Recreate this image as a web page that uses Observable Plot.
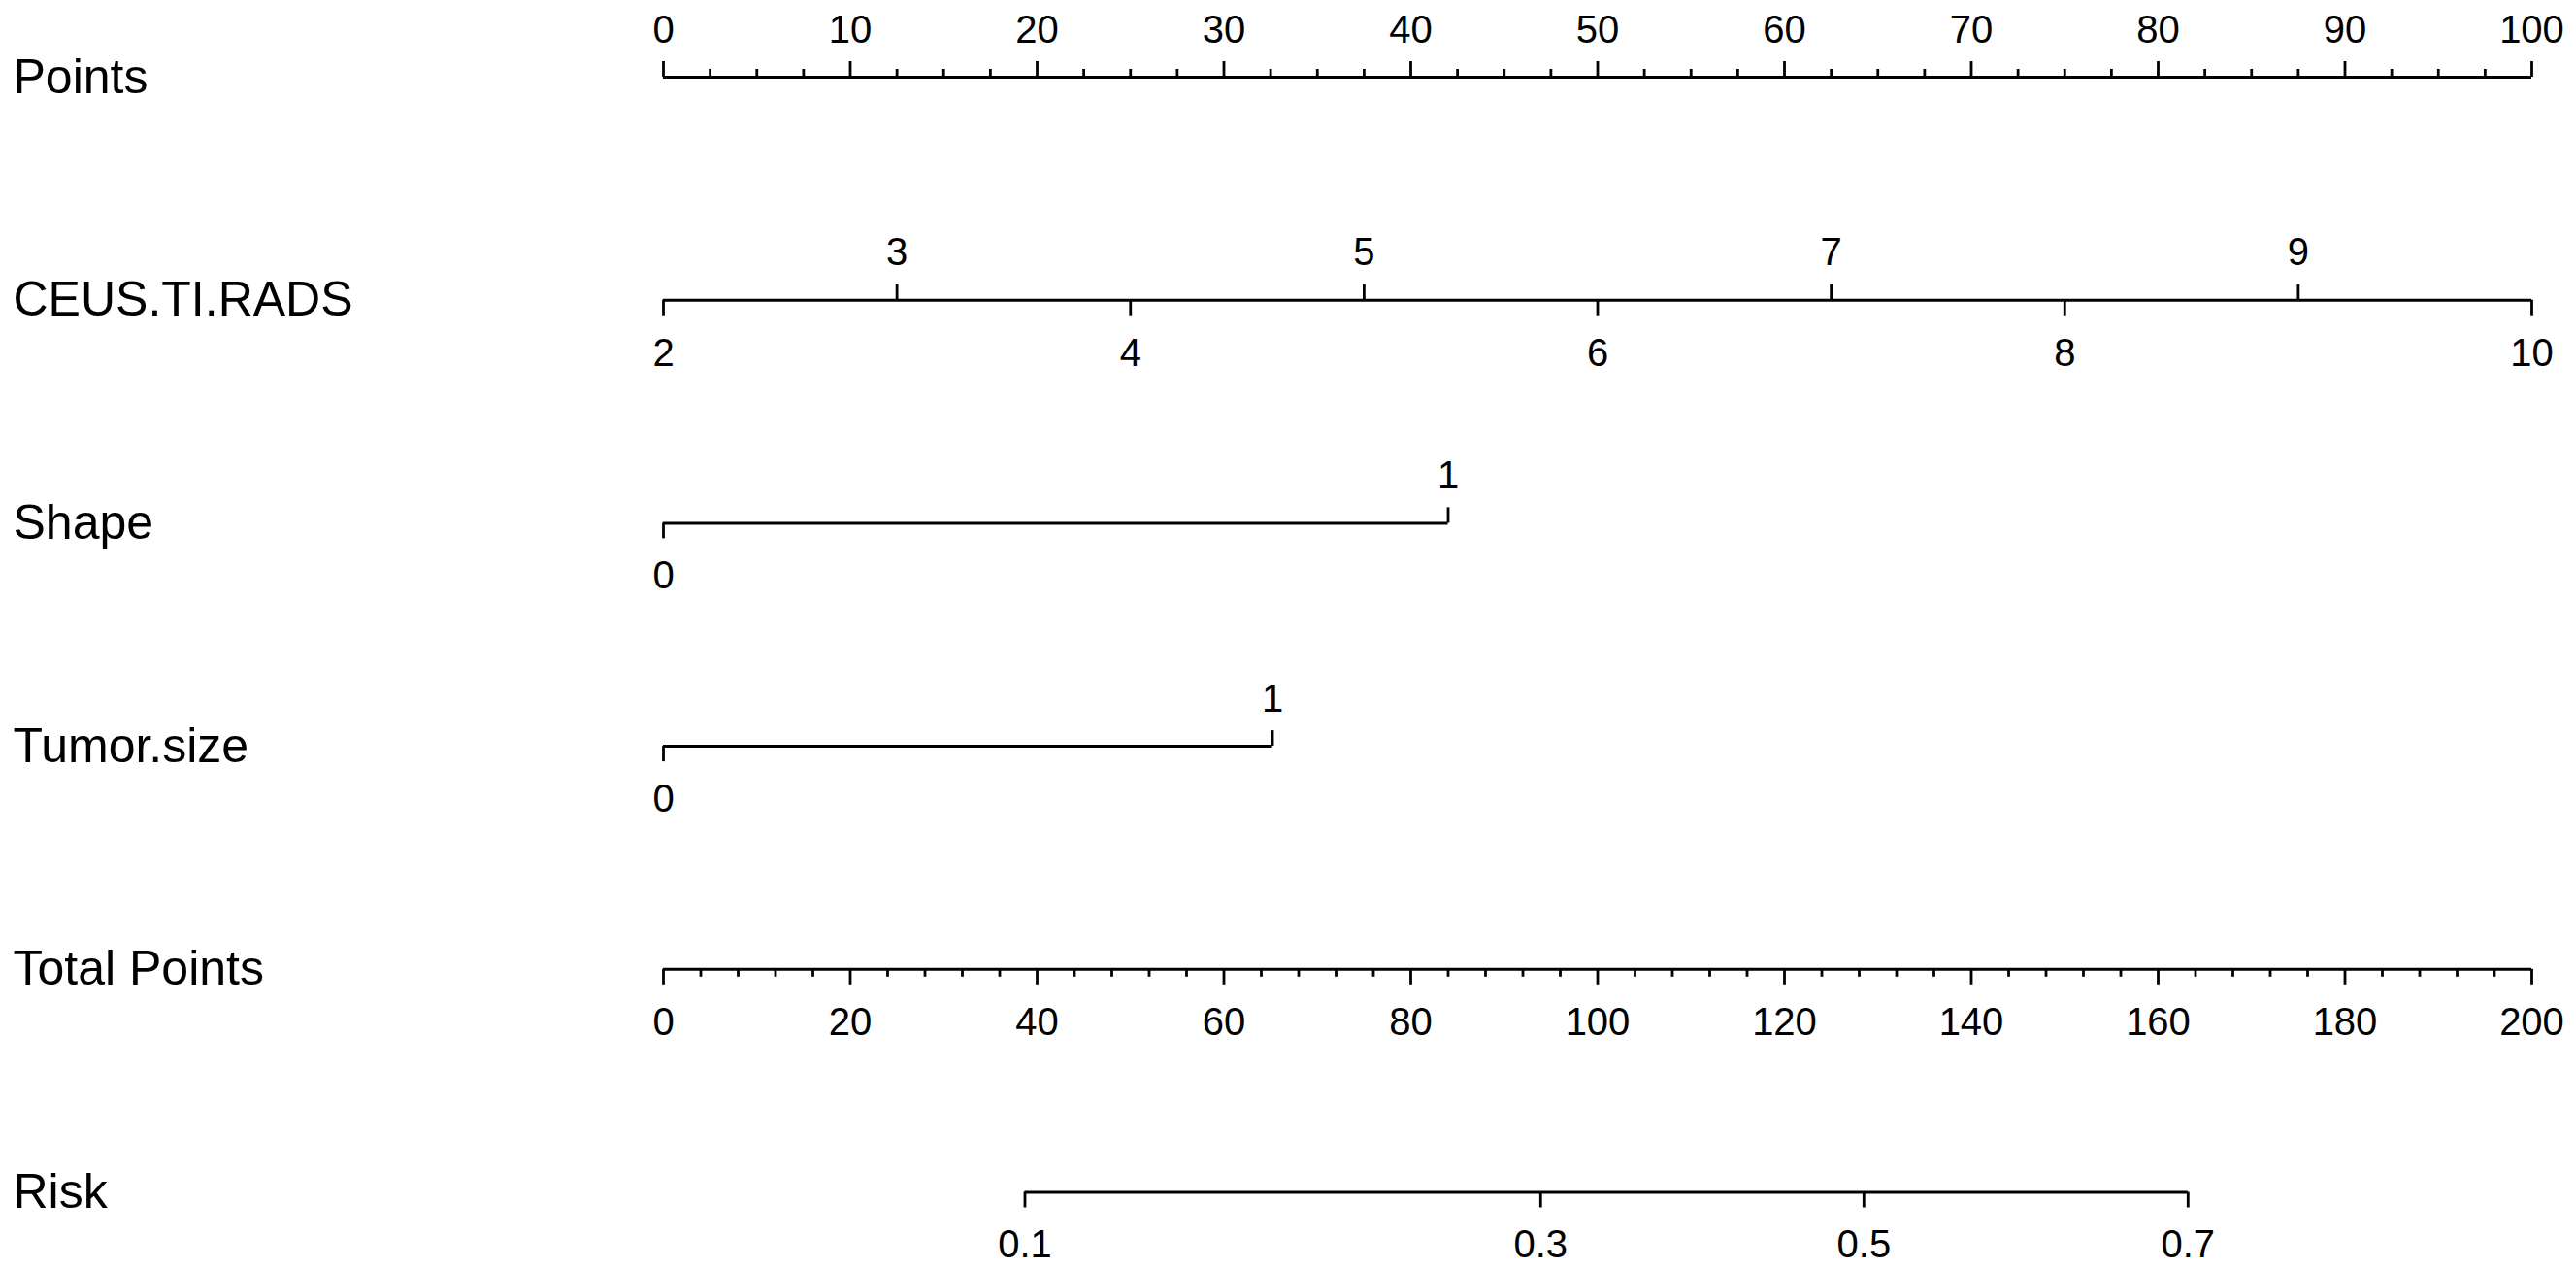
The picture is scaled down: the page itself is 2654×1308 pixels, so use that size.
<!DOCTYPE html>
<html>
<head>
<meta charset="utf-8">
<script src="https://cdn.jsdelivr.net/npm/d3@7"></script>
<script src="https://cdn.jsdelivr.net/npm/@observablehq/plot@0.6"></script>
<style>
html, body { margin: 0; padding: 0; background: #ffffff; }
#chart svg { display: block; }
</style>
</head>
<body>
<div id="chart"></div>
<script>
// ---- data ----
const rows = ["Points", "CEUS.TI.RADS", "Shape", "Tumor.size", "Total Points", "Risk"];

const pointsTicks = [0, 10, 20, 30, 40, 50, 60, 70, 80, 90, 100];
const pointsMinorStep = 2.5;

const ceusLevels = [2, 3, 4, 5, 6, 7, 8, 9, 10];
const ceusPoints = [0, 12.5, 25, 37.5, 50, 62.5, 75, 87.5, 100];

const shapeLevels = [0, 1];
const shapePoints = [0, 42];

const tumorLevels = [0, 1];
const tumorPoints = [0, 32.6];

const totalTicks = [0, 20, 40, 60, 80, 100, 120, 140, 160, 180, 200];
const totalMinorStep = 4;

const riskLevels = [0.1, 0.3, 0.5, 0.7];
const riskTotalPoints = [38.7, 93.9, 128.5, 163.2];

// ---- layout ----
const W = 2654, H = 1308;
const mL = 683, mR = 46, mT = 79, mB = 80.5;
const rowPx = (H - mT - mB) / (rows.length - 1);
const majorLen = 16, minorLen = 8;
const totalToPoints = 100 / 200;   // total-points axis spans the same width as 0-100 points
const font = "'Liberation Sans', Arial, Helvetica, sans-serif";

// ---- build marks data ----
const lines = [];   // {row, x1, x2}
const ticks = [];   // {row, x, dir, len}
const labels = [];  // {row, x, text, dir}

// Points row
lines.push({row: 0, x1: 0, x2: 100});
d3.range(0, 100 + 1e-9, pointsMinorStep).forEach(v => {
  const major = pointsTicks.includes(v);
  ticks.push({row: 0, x: v, dir: 1, len: major ? majorLen : minorLen});
});
pointsTicks.forEach(v => labels.push({row: 0, x: v, text: String(v), dir: 1}));

// CEUS.TI.RADS row (alternating labels: odd above, even below)
lines.push({row: 1, x1: ceusPoints[0], x2: ceusPoints[ceusPoints.length - 1]});
ceusLevels.forEach((lv, i) => {
  const dir = i % 2 === 1 ? 1 : -1;
  ticks.push({row: 1, x: ceusPoints[i], dir, len: majorLen});
  labels.push({row: 1, x: ceusPoints[i], text: String(lv), dir});
});

// Shape row
lines.push({row: 2, x1: shapePoints[0], x2: shapePoints[1]});
shapeLevels.forEach((lv, i) => {
  const dir = i % 2 === 1 ? 1 : -1;
  ticks.push({row: 2, x: shapePoints[i], dir, len: majorLen});
  labels.push({row: 2, x: shapePoints[i], text: String(lv), dir});
});

// Tumor.size row
lines.push({row: 3, x1: tumorPoints[0], x2: tumorPoints[1]});
tumorLevels.forEach((lv, i) => {
  const dir = i % 2 === 1 ? 1 : -1;
  ticks.push({row: 3, x: tumorPoints[i], dir, len: majorLen});
  labels.push({row: 3, x: tumorPoints[i], text: String(lv), dir});
});

// Total Points row
lines.push({row: 4, x1: 0, x2: 200 * totalToPoints});
d3.range(0, 200 + 1e-9, totalMinorStep).forEach(v => {
  const major = totalTicks.includes(v);
  ticks.push({row: 4, x: v * totalToPoints, dir: -1, len: major ? majorLen : minorLen});
});
totalTicks.forEach(v => labels.push({row: 4, x: v * totalToPoints, text: String(v), dir: -1}));

// Risk row
lines.push({row: 5, x1: riskTotalPoints[0] * totalToPoints, x2: riskTotalPoints[riskTotalPoints.length - 1] * totalToPoints});
riskLevels.forEach((lv, i) => {
  ticks.push({row: 5, x: riskTotalPoints[i] * totalToPoints, dir: -1, len: majorLen});
  labels.push({row: 5, x: riskTotalPoints[i] * totalToPoints, text: String(lv), dir: -1});
});

const up = labels.filter(d => d.dir === 1);
const down = labels.filter(d => d.dir === -1);

const chart = Plot.plot({
  width: W,
  height: H,
  marginLeft: mL,
  marginRight: mR,
  marginTop: mT,
  marginBottom: mB,
  x: {domain: [0, 100], axis: null},
  y: {domain: [0, rows.length - 1], reverse: true, axis: null},
  style: {fontFamily: font, background: "#ffffff", color: "#000000"},
  marks: [
    Plot.ruleY(lines, {y: "row", x1: "x1", x2: "x2", stroke: "#000", strokeWidth: 3}),
    Plot.ruleX(ticks, {
      x: "x",
      y1: "row",
      y2: d => d.row - d.dir * d.len / rowPx,
      stroke: "#000",
      strokeWidth: 2.8
    }),
    Plot.text(up, {
      x: "x", y: "row", text: "text",
      lineAnchor: "bottom", dy: -36,
      fontSize: 40, fill: "#000"
    }),
    Plot.text(down, {
      x: "x", y: "row", text: "text",
      lineAnchor: "top", dy: 39,
      fontSize: 40, fill: "#000"
    }),
    Plot.text(rows, {
      y: (d, i) => i,
      text: d => d,
      frameAnchor: "left",
      textAnchor: "start",
      lineAnchor: "middle",
      dx: 13 - mL,
      fontSize: 50,
      fill: "#000"
    })
  ]
});

document.getElementById("chart").appendChild(chart);
</script>
</body>
</html>
